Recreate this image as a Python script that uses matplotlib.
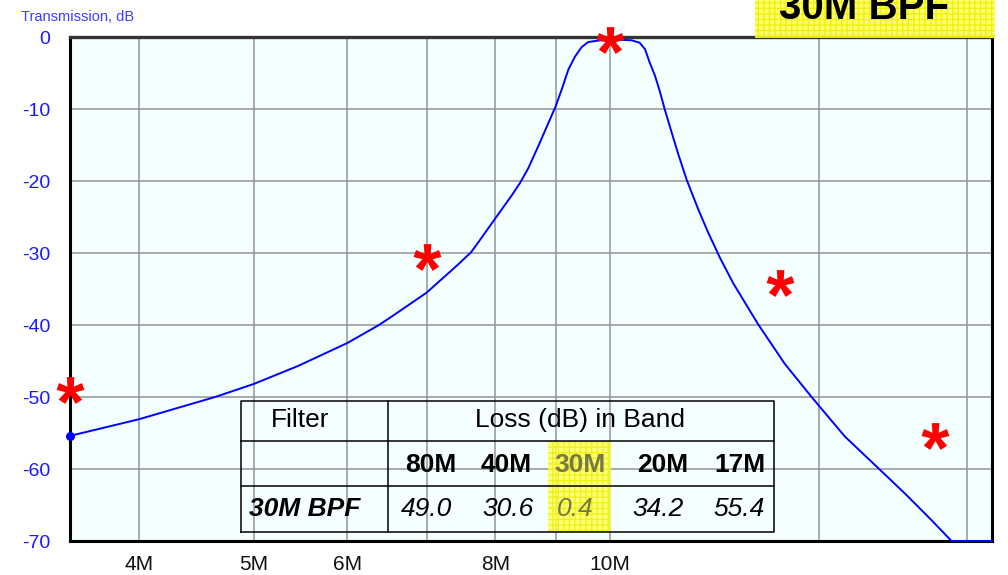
import matplotlib
matplotlib.use("Agg")
import matplotlib.pyplot as plt
from matplotlib import font_manager
from matplotlib.font_manager import FontProperties
from matplotlib.textpath import TextPath
from matplotlib.path import Path
from matplotlib.patches import Rectangle
from matplotlib.ticker import FixedLocator, FixedFormatter, NullFormatter

# Measured transmission of the 30 m band-pass filter
freq_mhz = [3.5, 4.0, 4.64, 5.0, 5.45, 6.0, 6.38, 6.53, 7.0, 7.44, 7.63,
            7.74, 7.99, 8.25, 8.39, 8.53, 8.72, 8.87, 8.99, 9.10, 9.22,
            9.34, 9.46, 9.58, 9.77, 10.03, 10.42, 10.59, 10.70, 10.80,
            10.91, 11.01, 11.12, 11.27, 11.41, 11.60, 11.87, 12.10, 12.38,
            12.70, 13.33, 14.04, 14.79, 15.0, 15.78, 16.84, 17.73, 18.67,
            19.41, 21.0]
transmission_db = [-55.4, -53.1, -50.0, -48.2, -45.7, -42.5, -40.0, -38.9,
                   -35.5, -31.6, -29.9, -28.5, -25.3, -22.1, -20.3, -18.2,
                   -14.7, -11.9, -9.7, -7.3, -4.5, -2.7, -1.4, -0.7, -0.5,
                   -0.35, -0.45, -0.8, -1.7, -3.6, -5.4, -7.5, -10.1, -13.3,
                   -16.2, -19.8, -24.0, -27.2, -30.7, -34.2, -39.9, -45.4,
                   -50.0, -51.2, -55.5, -59.9, -63.4, -67.1, -70.0, -70.0]

# Loss in each amateur band
bands = ["80M", "40M", "30M", "20M", "17M"]
band_freq_mhz = [3.5, 7.0, 10.0, 13.9, 18.8]
loss_db = [49.0, 30.6, 0.4, 34.2, 55.4]
filter_name = "30M BPF"

x_major = [4, 5, 6, 8, 10]
x_major_labels = ["4M", "5M", "6M", "8M", "10M"]
x_minor = [7, 9, 15, 20]
y_ticks = [0, -10, -20, -30, -40, -50, -60, -70]
y_labels = ["0", "-10", "-20", "-30", "-40", "-50", "-60", "-70"]


def pick_family(*names):
    for n in names:
        try:
            font_manager.findfont(FontProperties(family=n), fallback_to_default=False)
            return n
        except Exception:
            pass
    return "DejaVu Sans"


SANS = pick_family("Liberation Sans", "Arial")
NARROW = pick_family("Liberation Sans Narrow", "Arial Narrow", SANS)

plt.rcParams["axes.unicode_minus"] = False
plt.rcParams["font.family"] = SANS
plt.rcParams["hatch.linewidth"] = 1.0

W, H = 1008, 575
fig = plt.figure(figsize=(W / 100, H / 100), dpi=100)
fig.patch.set_facecolor("white")
ax = fig.add_axes([70 / W, 34 / H, 922 / W, 504 / H])
ax.set_facecolor("#f4ffff")

ax.set_xscale("log")
ax.set_xlim(3.5, 21.0)
ax.set_ylim(-70, 0)

ax.xaxis.set_major_locator(FixedLocator(x_major))
ax.xaxis.set_major_formatter(FixedFormatter(x_major_labels))
ax.xaxis.set_minor_locator(FixedLocator(x_minor))
ax.xaxis.set_minor_formatter(NullFormatter())
ax.yaxis.set_major_locator(FixedLocator(y_ticks))
ax.yaxis.set_major_formatter(FixedFormatter(y_labels))

ax.grid(True, which="both", color="#959595", linewidth=1.1)
ax.set_axisbelow(True)
ax.tick_params(axis="both", which="both", length=0)
ax.tick_params(axis="x", pad=10, labelsize=15, labelcolor="#111111")
ax.tick_params(axis="y", pad=14, labelsize=14, labelcolor="#1a1aff")
for lab in ax.get_xticklabels() + ax.get_yticklabels():
    lab.set_family(NARROW)

for side in ("left", "bottom", "right"):
    ax.spines[side].set_color("black")
    ax.spines[side].set_linewidth(2.2)
ax.spines["top"].set_color("#333333")
ax.spines["top"].set_linewidth(2.4)

fig.text(21 / W, 1 - 17 / H, "Transmission, dB", family=NARROW,
         fontsize=10.5 if NARROW == SANS else 12,
         color="#3c3cff", ha="left", va="center")

# Response curve
ax.plot(freq_mhz, transmission_db, color="#0000ff", linewidth=1.4,
        clip_on=False, zorder=4)
ax.plot(freq_mhz[:1], transmission_db[:1], "o", color="#0000ff",
        markersize=5.5, clip_on=False, zorder=5)

# Asterisk marker built from the font glyph, centred on its own box
tp = TextPath((0, 0), "*", size=10, prop=FontProperties(family=SANS, weight="bold"))
bb = tp.get_extents()
verts = tp.vertices - [(bb.x0 + bb.x1) / 2, (bb.y0 + bb.y1) / 2]
codes = tp.codes
if codes is not None:
    verts[codes == Path.CLOSEPOLY] = 0.0
star = Path(verts, codes)
ax.plot(band_freq_mhz, [-v for v in loss_db], linestyle="none", marker=star,
        markersize=20, markerfacecolor="#ff0000", markeredgewidth=0,
        clip_on=False, zorder=6)

# Loss table
T = ax.transAxes
def px_x(x):
    return (x - 70) / 922
def px_y(y):
    return (541 - y) / 504

tx0, tx1, tdiv = px_x(241), px_x(774), px_x(388)
ty0, ty1, tr1, tr2 = px_y(532), px_y(401), px_y(441), px_y(486)

ax.add_patch(Rectangle((px_x(548), ty0), px_x(611) - px_x(548), tr1 - ty0,
                       transform=T, facecolor="#ffff55", alpha=0.8,
                       edgecolor="#eeee00", linewidth=0, hatch="+++", zorder=2))

line_kw = dict(transform=T, color="black", linewidth=1.1, zorder=3,
               solid_capstyle="projecting")
ax.plot([tx0, tx1, tx1, tx0, tx0], [ty0, ty0, ty1, ty1, ty0], **line_kw)
ax.plot([tx0, tx1], [tr1, tr1], **line_kw)
ax.plot([tx0, tx1], [tr2, tr2], **line_kw)
ax.plot([tdiv, tdiv], [ty0, ty1], **line_kw)

row1_y, row2_y, row3_y = px_y(420), px_y(465), px_y(509)
ax.text(px_x(300), row1_y, "Filter", transform=T, fontsize=19,
        ha="center", va="center", zorder=4)
ax.text(px_x(580), row1_y, "Loss (dB) in Band", transform=T, fontsize=19,
        ha="center", va="center", zorder=4)
ax.text(px_x(305), row3_y, filter_name, transform=T, fontsize=19,
        weight="bold", style="italic", ha="center", va="center", zorder=4)

header_x = [431, 506, 580, 663, 740]
value_x = [426, 508, 575, 658, 739]
for i, (b, v) in enumerate(zip(bands, loss_db)):
    col = "#77774a" if b == "30M" else "black"
    ax.text(px_x(header_x[i]), row2_y, b, transform=T, fontsize=19,
            weight="bold", color=col, ha="center", va="center", zorder=4)
    ax.text(px_x(value_x[i]), row3_y, f"{v:.1f}", transform=T, fontsize=19,
            style="italic", color=col, ha="center", va="center", zorder=4)

# Title tag
fig.add_artist(Rectangle((755 / W, 1 - 38 / H), 240 / W, 38 / H,
                         transform=fig.transFigure, facecolor="#ffff55",
                         alpha=0.85, edgecolor="#eeee00", linewidth=0,
                         hatch="+++", zorder=5))
fig.text(864 / W, 1 - 19 / H, filter_name, fontsize=29, weight="bold",
         ha="center", va="baseline", color="black", zorder=6)

fig.savefig("out.png", dpi=100, facecolor="white")
